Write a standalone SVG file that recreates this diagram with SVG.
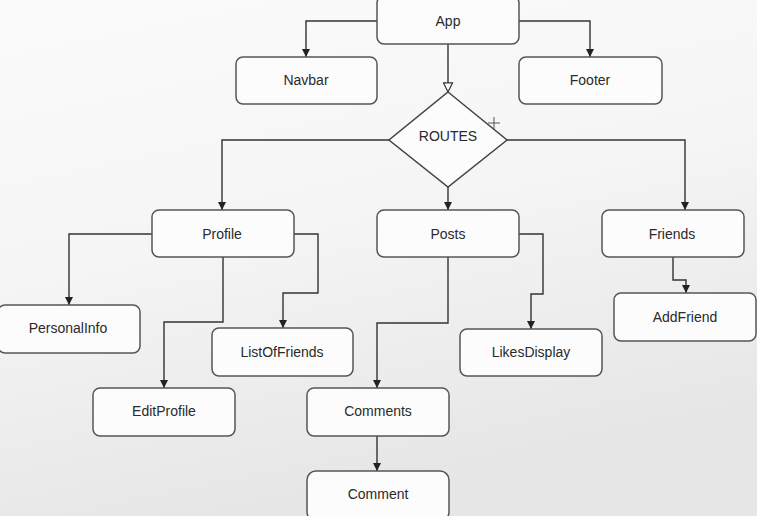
<svg xmlns="http://www.w3.org/2000/svg" width="757" height="516" viewBox="0 0 757 516">
<defs>
<linearGradient id="bg" x1="0" y1="0" x2="0.3" y2="1">
<stop offset="0" stop-color="#fbfbfb"/>
<stop offset="0.5" stop-color="#f5f5f5"/>
<stop offset="1" stop-color="#e6e6e6"/>
</linearGradient>
<marker id="arr" viewBox="0 0 10 10" refX="10" refY="5" markerWidth="8" markerHeight="8" markerUnits="userSpaceOnUse" orient="auto">
<path d="M0,0 L10,5 L0,10 Z" fill="#222"/>
</marker>
<marker id="open" viewBox="0 0 12 12" refX="11" refY="6" markerWidth="11" markerHeight="11" markerUnits="userSpaceOnUse" orient="auto">
<path d="M1,1 L11,6 L1,11 Z" fill="#fff" stroke="#333" stroke-width="1.3"/>
</marker>
</defs>
<style>
.box{fill:#fcfcfc;stroke:#555;stroke-width:1.5}
.dia{fill:#fcfcfc;stroke:#444;stroke-width:1.5}
.lbl{font-family:"Liberation Sans",Arial,sans-serif;font-size:14px;fill:#2a2a2a;text-anchor:middle;dominant-baseline:central}
.con{fill:none;stroke:#333;stroke-width:1.4}
</style>
<rect x="0" y="0" width="757" height="516" fill="url(#bg)"/>
<g id="connectors">
<path class="con" d="M377,21 H306 V57" marker-end="url(#arr)"/>
<path class="con" d="M519,21 H590 V57" marker-end="url(#arr)"/>
<path class="con" d="M448,44 V92" marker-end="url(#open)"/>
<path class="con" d="M389,140 H222 V210" marker-end="url(#arr)"/>
<path class="con" d="M507,140 H685 V210" marker-end="url(#arr)"/>
<path class="con" d="M448,187 V210" marker-end="url(#arr)"/>
<path class="con" d="M152,234 H69 V305" marker-end="url(#arr)"/>
<path class="con" d="M294,234 H318 V293 H283 V328" marker-end="url(#arr)"/>
<path class="con" d="M223,257 V322 H164 V388" marker-end="url(#arr)"/>
<path class="con" d="M519,234 H543 V294 H531 V329" marker-end="url(#arr)"/>
<path class="con" d="M448,257 V323 H377 V388" marker-end="url(#arr)"/>
<path class="con" d="M377,436 V471" marker-end="url(#arr)"/>
<path class="con" d="M673,257 V280 H686 V293" marker-end="url(#arr)"/>
</g>
<g id="App"><rect class="box" x="377" y="-4" width="142" height="48" rx="7"/><text class="lbl" x="448" y="21">App</text></g>
<g id="Navbar"><rect class="box" x="236" y="57" width="141" height="47" rx="7"/><text class="lbl" x="306" y="80">Navbar</text></g>
<g id="Footer"><rect class="box" x="519" y="57" width="143" height="47" rx="7"/><text class="lbl" x="590" y="80">Footer</text></g>
<g id="ROUTES"><path class="dia" d="M448,92 L507,140 L448,187 L389,140 Z"/><text class="lbl" x="448" y="136">ROUTES</text></g>
<g id="cursor"><path d="M494,117 V129 M488,123 H500" stroke="#555" stroke-width="1" fill="none"/></g>
<g id="Profile"><rect class="box" x="152" y="210" width="142" height="47" rx="7"/><text class="lbl" x="222" y="234">Profile</text></g>
<g id="Posts"><rect class="box" x="377" y="210" width="142" height="47" rx="7"/><text class="lbl" x="448" y="234">Posts</text></g>
<g id="Friends"><rect class="box" x="602" y="210" width="142" height="47" rx="7"/><text class="lbl" x="672" y="234">Friends</text></g>
<g id="PersonalInfo"><rect class="box" x="-2" y="305" width="142" height="48" rx="7"/><text class="lbl" x="68" y="328">PersonalInfo</text></g>
<g id="ListOfFriends"><rect class="box" x="212" y="328" width="141" height="48" rx="7"/><text class="lbl" x="282" y="352">ListOfFriends</text></g>
<g id="LikesDisplay"><rect class="box" x="460" y="329" width="142" height="47" rx="7"/><text class="lbl" x="531" y="352">LikesDisplay</text></g>
<g id="AddFriend"><rect class="box" x="614" y="293" width="142" height="48" rx="7"/><text class="lbl" x="685" y="317">AddFriend</text></g>
<g id="EditProfile"><rect class="box" x="93" y="388" width="142" height="48" rx="7"/><text class="lbl" x="164" y="411">EditProfile</text></g>
<g id="Comments"><rect class="box" x="307" y="388" width="142" height="48" rx="7"/><text class="lbl" x="378" y="411">Comments</text></g>
<g id="Comment"><rect class="box" x="307" y="471" width="142" height="50" rx="9"/><text class="lbl" x="378" y="494">Comment</text></g>
</svg>
